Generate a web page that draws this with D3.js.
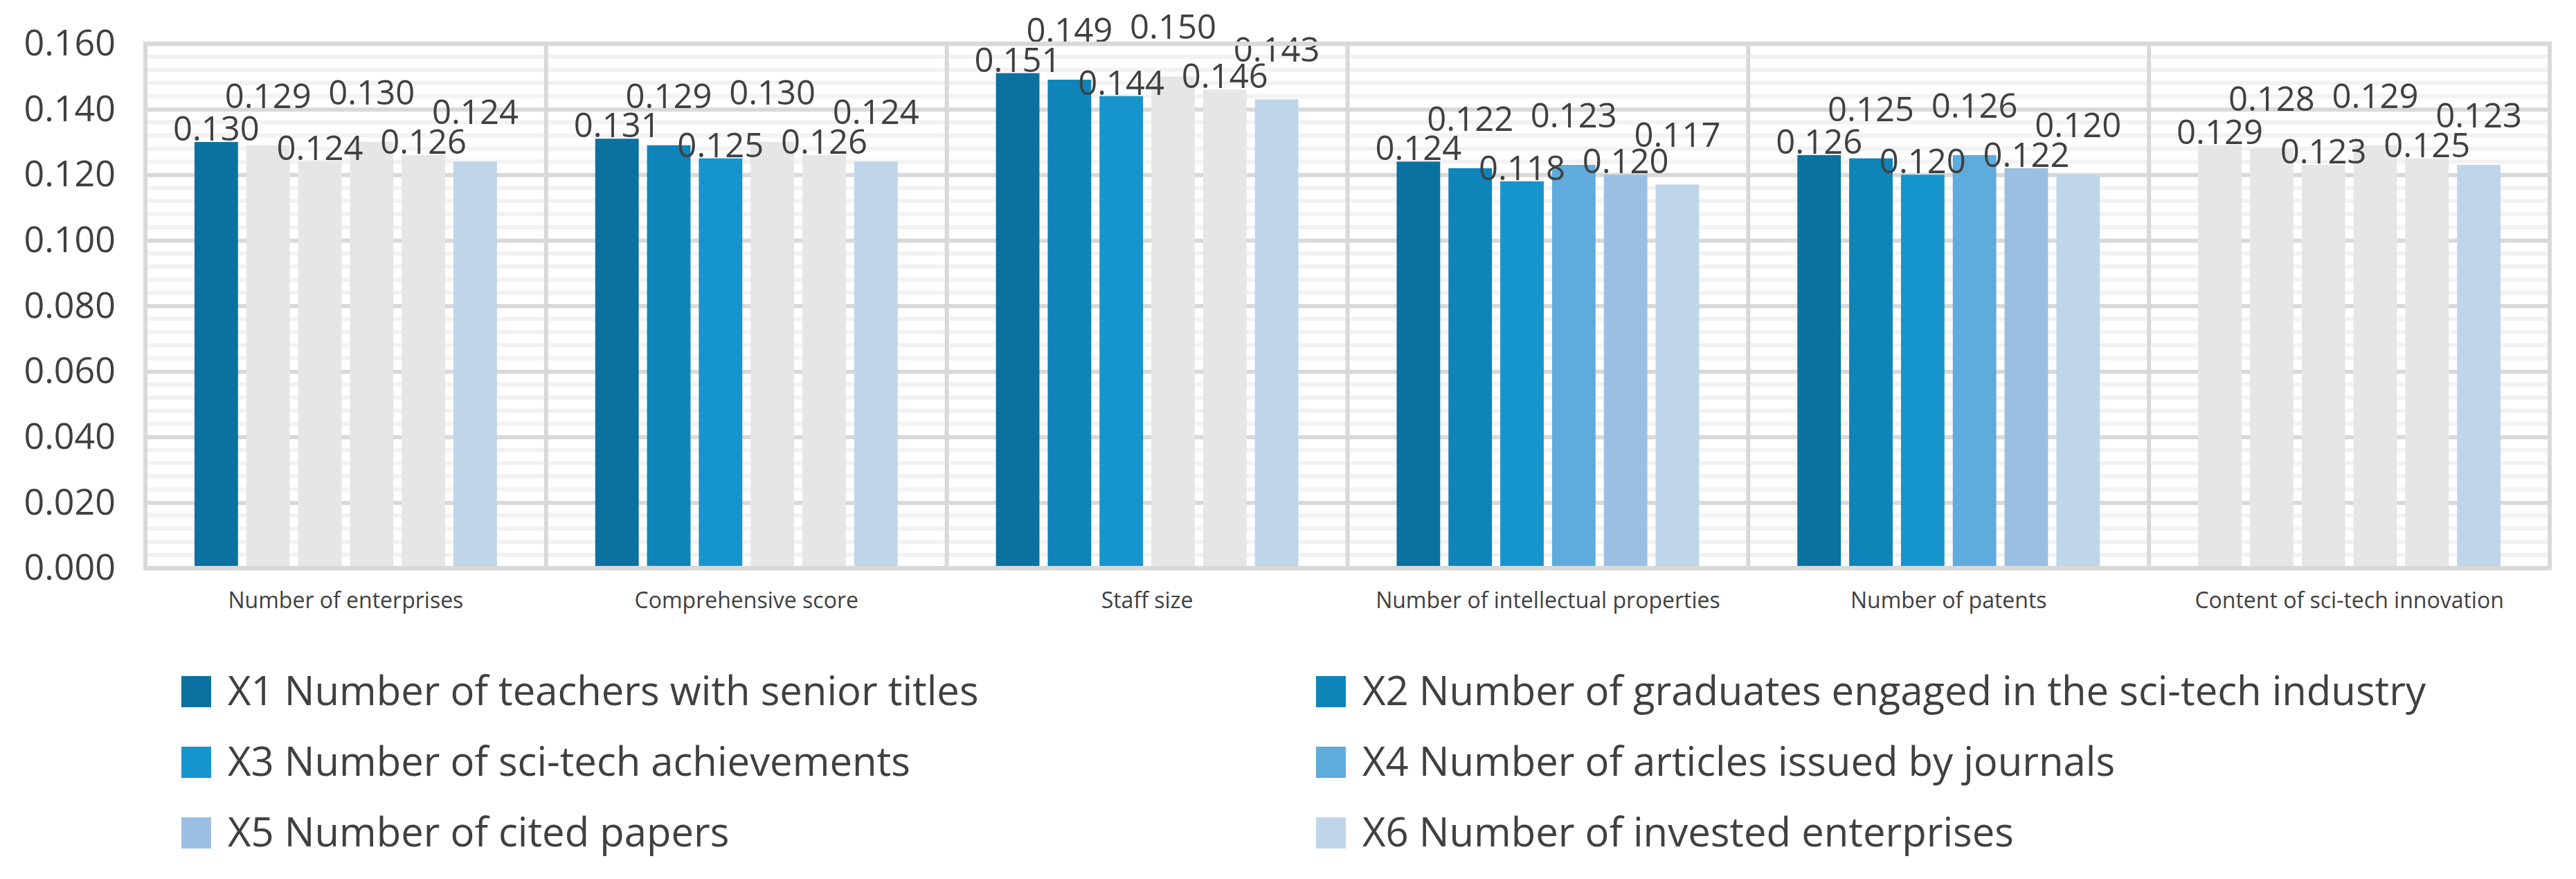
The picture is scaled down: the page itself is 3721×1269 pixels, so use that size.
<!DOCTYPE html>
<html>
<head>
<meta charset="utf-8">
<script src="https://cdn.jsdelivr.net/npm/d3@7"></script>
<style>
  body { margin: 0; background: #fff; }
  text { font-family: "Open Sans", "Noto Sans", sans-serif; }
</style>
</head>
<body>
<div id="chart"></div>
<script>
'use strict';

var categories = [
    'Number of enterprises',
    'Comprehensive score',
    'Staff size',
    'Number of intellectual properties',
    'Number of patents',
    'Content of sci-tech innovation'
];

var seriesNames = [
    'X1 Number of teachers with senior titles',
    'X2 Number of graduates engaged in the sci-tech industry',
    'X3 Number of sci-tech achievements',
    'X4 Number of articles issued by journals',
    'X5 Number of cited papers',
    'X6 Number of invested enterprises'
];

// one array per series, in category order
var x1 = [0.130, 0.131, 0.151, 0.124, 0.126, 0.129];
var x2 = [0.129, 0.129, 0.149, 0.122, 0.125, 0.128];
var x3 = [0.124, 0.125, 0.144, 0.118, 0.120, 0.123];
var x4 = [0.130, 0.130, 0.150, 0.123, 0.126, 0.129];
var x5 = [0.126, 0.126, 0.146, 0.120, 0.122, 0.125];
var x6 = [0.124, 0.124, 0.143, 0.117, 0.120, 0.123];

// series shown in colour for each category (the rest are greyed out)
var highlighted = [
    [0, 5],
    [0, 1, 2, 5],
    [0, 1, 2, 5],
    [0, 1, 2, 3, 4, 5],
    [0, 1, 2, 3, 4, 5],
    [5]
];

var yTicks = [0, 0.02, 0.04, 0.06, 0.08, 0.10, 0.12, 0.14, 0.16];

var seriesValues = [x1, x2, x3, x4, x5, x6];
var colors = ['#0b71a0', '#0e84b9', '#1695cd', '#5fabdc', '#9bbfe3', '#bfd5ea'];
var grey = '#e6e6e6';

var W = 3721, H = 1269;
var plot = { left: 210, right: 3683, top: 63, bottom: 820 };

var svg = d3.select('#chart').append('svg')
    .attr('width', W)
    .attr('height', H);

var x0 = d3.scaleBand()
    .domain(categories)
    .range([plot.left, plot.right])
    .padding(0);

var x1s = d3.scaleBand()
    .domain(d3.range(seriesNames.length))
    .range([x0.bandwidth() * 0.1226, x0.bandwidth() * 0.8774])
    .paddingInner(0.16);

var y = d3.scaleLinear()
    .domain([0, 0.16])
    .range([plot.bottom, plot.top]);

// minor gridlines
var minor = d3.range(0, 0.1601, 0.004).filter(function(v) {
    return Math.abs(v / 0.02 - Math.round(v / 0.02)) > 1e-6;
});
svg.append('g').selectAll('line').data(minor).enter().append('line')
    .attr('x1', plot.left).attr('x2', plot.right)
    .attr('y1', function(d) { return y(d); })
    .attr('y2', function(d) { return y(d); })
    .attr('stroke', '#f2f2f2')
    .attr('stroke-width', 6);

// major gridlines via the axis
var yAxis = svg.append('g')
    .attr('transform', 'translate(' + plot.left + ',0)')
    .call(d3.axisLeft(y).tickValues(yTicks).tickFormat(d3.format('.3f'))
        .tickSize(-(plot.right - plot.left)).tickPadding(43));
yAxis.select('.domain').remove();
yAxis.selectAll('.tick line')
    .attr('stroke', '#d9d9d9')
    .attr('stroke-width', 6);
yAxis.selectAll('.tick text')
    .attr('fill', '#404040')
    .style('font-size', '52px')
    .style('font-family', '"Open Sans", sans-serif');

// category separators
svg.append('g').selectAll('line').data(categories.slice(1)).enter().append('line')
    .attr('x1', function(d) { return x0(d); })
    .attr('x2', function(d) { return x0(d); })
    .attr('y1', plot.top).attr('y2', plot.bottom)
    .attr('stroke', '#d9d9d9')
    .attr('stroke-width', 6);

// bars
var groups = svg.append('g').selectAll('g').data(categories).enter().append('g')
    .attr('transform', function(d) { return 'translate(' + x0(d) + ',0)'; });

var cells = function(d, ci) {
    return seriesValues.map(function(vals, si) {
        return { ci: ci, si: si, v: vals[ci], on: highlighted[ci].indexOf(si) >= 0 };
    });
};

groups.selectAll('rect').data(cells).enter().append('rect')
    .attr('x', function(d) { return x1s(d.si); })
    .attr('width', x1s.bandwidth())
    .attr('y', function(d) { return y(d.v); })
    .attr('height', function(d) { return y(0) - y(d.v); })
    .attr('fill', function(d) { return d.on ? colors[d.si] : grey; });

// plot frame
svg.append('rect')
    .attr('x', plot.left).attr('y', plot.top)
    .attr('width', plot.right - plot.left)
    .attr('height', plot.bottom - plot.top)
    .attr('fill', 'none')
    .attr('stroke', '#d9d9d9')
    .attr('stroke-width', 6);

// data labels, staggered: even series sit on the bar, odd ones are lifted
groups.selectAll('text.val').data(cells).enter().append('text')
    .attr('class', 'val')
    .attr('x', function(d) { return x1s(d.si) + x1s.bandwidth() / 2; })
    .attr('y', function(d) { return y(d.v) - (d.si % 2 ? 54 : 2); })
    .attr('text-anchor', 'middle')
    .attr('fill', '#404040')
    .style('font-size', '49px')
    .text(function(d) { return d3.format('.3f')(d.v); });

// category labels
svg.append('g').selectAll('text').data(categories).enter().append('text')
    .attr('x', function(d) { return x0(d) + x0.bandwidth() / 2; })
    .attr('y', 878)
    .attr('text-anchor', 'middle')
    .attr('fill', '#404040')
    .style('font-size', '32px')
    .text(function(d) { return d; });

// legend, two columns
var legendX = [262, 1901];
var legendY = [998, 1100, 1202];

var legend = svg.append('g').selectAll('g').data(seriesNames).enter().append('g')
    .attr('transform', function(d, i) {
        return 'translate(' + legendX[i % 2] + ',' + legendY[Math.floor(i / 2)] + ')';
    });

legend.append('rect')
    .attr('x', 0).attr('y', -22)
    .attr('width', 43).attr('height', 45)
    .attr('fill', function(d, i) { return colors[i]; });

legend.append('text')
    .attr('x', 67)
    .attr('y', 0)
    .attr('dy', '0.35em')
    .attr('fill', '#404040')
    .style('font-size', '58px')
    .text(function(d) { return d; });
</script>
</body>
</html>
